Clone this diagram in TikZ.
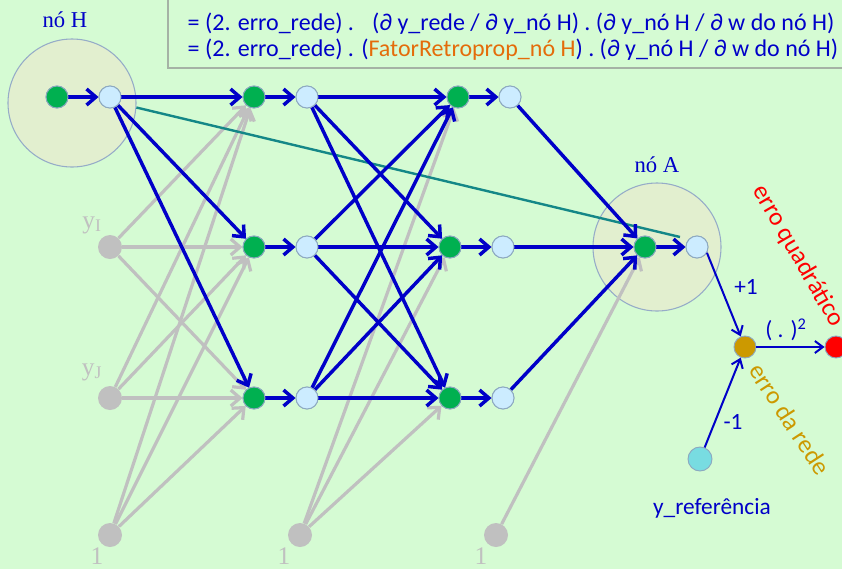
\documentclass[tikz,border=0pt]{standalone}
\usepackage{fontspec}
\setmainfont{Liberation Serif}
\newfontfamily\calib{Carlito}
\usetikzlibrary{arrows.meta}
\definecolor{bg}{RGB}{213,251,211}
\definecolor{boxline}{RGB}{165,178,165}
\definecolor{bigfill}{RGB}{226,239,207}
\definecolor{bigline}{RGB}{150,172,200}
\definecolor{nodeline}{RGB}{140,168,192}
\definecolor{gfill}{RGB}{0,176,80}
\definecolor{wfill}{RGB}{204,236,255}
\definecolor{grayc}{RGB}{192,192,192}
\definecolor{tblue}{RGB}{0,0,200}
\definecolor{tealc}{RGB}{20,135,135}
\definecolor{errc}{RGB}{204,153,0}
\definecolor{refc}{RGB}{120,220,225}
\definecolor{orangetxt}{RGB}{228,108,10}
\tikzset{
  big/.style={circle, draw=bigline, line width=0.8pt, fill=bigfill, minimum size=96pt, inner sep=0pt},
  gn/.style={circle, draw=nodeline, line width=0.7pt, fill=gfill, minimum size=16.5pt, inner sep=0pt},
  wn/.style={circle, draw=nodeline, line width=0.7pt, fill=wfill, minimum size=16.5pt, inner sep=0pt},
  grn/.style={circle, fill=grayc, minimum size=18pt, inner sep=0pt},
  bl/.style={draw=tblue, line width=2.6pt, -{Straight Barb[length=7pt,width=12pt]}},
  gl/.style={draw=grayc, line width=2.4pt, -{Straight Barb[length=7pt,width=12pt]}},
  thinbl/.style={draw=tblue, line width=1.5pt, -{Straight Barb[length=6pt,width=9pt]}},
  serlab/.style={font=\fontsize{17}{19}\selectfont, text=tblue},
  graylab/.style={font=\fontsize{19}{21}\selectfont, text=grayc},
  callab/.style={font=\calib\fontsize{17.5}{20}\selectfont, text=tblue},
  formula/.style={font=\calib\fontsize{18}{21}\selectfont, text=tblue},
}
\begin{document}
\begin{tikzpicture}[x=0.75pt,y=-0.75pt]
\fill[bg] (0,0) rectangle (842,569);
\useasboundingbox (0,0) rectangle (842,569);

% formula box
\draw[boxline, line width=0.8pt, fill=bg] (168,-5) rectangle (850,68);
\node[formula, anchor=west] (f1) at (183,24) {= (2. erro\_rede) . \ \ (∂ y\_rede / ∂ y\_nó H) . (∂ y\_nó H / ∂ w do nó H)};
\node[formula, anchor=west] (f2) at (183,50) {= (2. erro\_rede) . (\textcolor{orangetxt}{FatorRetroprop\_nó H}) . (∂ y\_nó H / ∂ w do nó H)};

% big circles
\node[big] (Hc) at (72,103) {};
\node[big] (Ac) at (657,247) {};
\node[serlab] (Hlab) at (65,20) {nó H};
\node[serlab] (Alab) at (657,165) {nó A};

% input nodes
\node[gn] (h1) at (57,97) {};
\node[wn] (h2) at (110,97) {};
\node[grn] (yi) at (110,247) {};
\node[grn] (yj) at (110,398) {};
\node[grn] (b0) at (110,535) {};
\node[graylab] at (92,225) {y\textsubscript{I}};
\node[graylab] at (92,372) {y\textsubscript{J}};
\node[graylab] at (97,556) {1};

% layer 1
\node[gn] (a1) at (254,97) {};
\node[wn] (a2) at (307,97) {};
\node[gn] (b1) at (254,247) {};
\node[wn] (b2) at (307,247) {};
\node[gn] (c1) at (254,398) {};
\node[wn] (c2) at (307,398) {};
\node[grn] (b1b) at (300,535) {};
\node[graylab] at (284,556) {1};

% layer 2
\node[gn] (d1) at (458,97) {};
\node[wn] (d2) at (510,97) {};
\node[gn] (e1) at (450,247) {};
\node[wn] (e2) at (503,247) {};
\node[gn] (f1n) at (450,398) {};
\node[wn] (f2n) at (503,398) {};
\node[grn] (b2b) at (496,535) {};
\node[graylab] at (481,556) {1};

% output
\node[gn] (o1) at (645,247) {};
\node[wn] (o2) at (697,247) {};
\node[circle, draw=nodeline, line width=0.7pt, fill=errc, minimum size=16.5pt, inner sep=0pt] (err) at (745,347) {};
\node[circle, draw=nodeline, line width=0.7pt, fill=red, minimum size=16.5pt, inner sep=0pt] (sq) at (836,347) {};
\node[circle, draw=nodeline, line width=0.7pt, fill=refc, minimum size=18pt, inner sep=0pt] (ref) at (700,459) {};

% gray edges
\foreach \s in {yi,yj,b0}{\foreach \t in {a1,b1,c1}{\draw[gl] (\s) -- (\t);}}
\foreach \t in {d1,e1,f1n}{\draw[gl] (b1b) -- (\t);}
\draw[gl] (b2b) -- (o1);

% teal line
\coordinate (tEnd) at (680,237);
\draw[tealc, line width=1.8pt] (Hc.-4) -- (tEnd);

% blue edges
\draw[bl] (h1) -- (h2);
\foreach \t in {a1,b1,c1}{\draw[bl] (h2) -- (\t);}
\draw[bl] (a1) -- (a2);
\draw[bl] (b1) -- (b2);
\draw[bl] (c1) -- (c2);
\foreach \s in {a2,b2,c2}{\foreach \t in {d1,e1,f1n}{\draw[bl] (\s) -- (\t);}}
\draw[bl] (d1) -- (d2);
\draw[bl] (e1) -- (e2);
\draw[bl] (f1n) -- (f2n);
\foreach \s in {d2,e2,f2n}{\draw[bl] (\s) -- (o1);}
\draw[bl] (o1) -- (o2);

% redraw nodes on top
\foreach \p in {{57,97},{254,97},{254,247},{254,398},{458,97},{450,247},{450,398},{645,247}}{\node[gn] at (\p) {};}
\foreach \p in {{110,97},{307,97},{307,247},{307,398},{510,97},{503,247},{503,398},{697,247}}{\node[wn] at (\p) {};}

% error part
\draw[thinbl] (o2.-30) -- (err);
\draw[thinbl] (ref) -- (err);
\draw[thinbl] (err) -- (sq);
\node[callab] at (746,287) {+1};
\node[callab] at (733,422) {-1};
\node[callab] at (786,330) {( . )\textsuperscript{2}};
\node[callab] at (712,508) {y\_referência};
\node[font=\calib\fontsize{19}{21}\selectfont, text=red, rotate=-60] at (798,256) {erro quadrático};
\node[font=\calib\fontsize{19}{21}\selectfont, text=errc, rotate=-57] at (790,419) {erro da rede};
\end{tikzpicture}
\end{document}
